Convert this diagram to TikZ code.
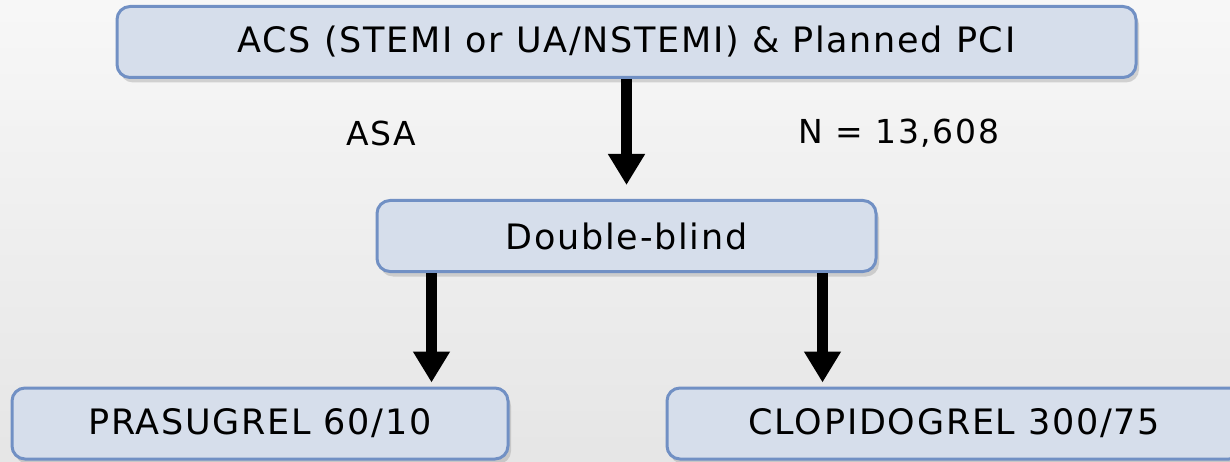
\documentclass[tikz,border=0pt]{standalone}
\usepackage{fontspec}
\setmainfont[LetterSpace=5]{DejaVu Sans}
\usetikzlibrary{positioning}
\usetikzlibrary{shadows}
\usetikzlibrary{arrows.meta}
\definecolor{boxfill}{HTML}{D6DEEB}
\definecolor{boxline}{HTML}{7190C4}
\tikzstyle{trial} = [rectangle, draw=boxline, fill=boxfill, line width=3pt,
                     rounded corners=13pt, minimum height=71pt,
                     font=\fontsize{35}{42}\selectfont,
                     drop shadow={shadow xshift=3pt, shadow yshift=-5pt,
                                  opacity=0.3}]
\tikzstyle{note}=[font=\fontsize{33}{40}\selectfont]
\tikzstyle{flow}=[line width=11pt, -{Triangle[width=35pt, length=31pt]},
                  shorten >=14pt]

\begin{document}
\begin{tikzpicture}[x=1pt, y=-1pt]
  % backdrop
  \shade[top color=black!3, bottom color=black!10] (0,0) rectangle (1230,462);
  \useasboundingbox (0,0) rectangle (1230,462);

  \node [trial, minimum width=1019pt] (acs) at (626.5,42)
    {ACS (STEMI or UA/NSTEMI) \& Planned PCI};
  \node [trial, minimum width=499pt] (blind) at (626.5,236) {Double-blind};
  \node [trial, minimum width=496pt] (pras) at (260,423.5) {PRASUGREL 60/10};
  % runs off the right edge of the page
  \node [trial, minimum width=575pt] (clop) at (954.5,423.5)
    {CLOPIDOGREL 300/75};

  \node [note] (asa) at (381,133) {ASA};
  \node [note] (size) at (899,133) {N = 13,608};

  \draw [flow] (acs.south) -- (blind.north);
  \draw [flow, shorten >=4pt] ([xshift=-195pt]blind.south)
    -- ([xshift=-195pt]blind.south |- pras.north);
  \draw [flow, shorten >=4pt] ([xshift=196pt]blind.south)
    -- ([xshift=196pt]blind.south |- clop.north);
\end{tikzpicture}
\end{document}
